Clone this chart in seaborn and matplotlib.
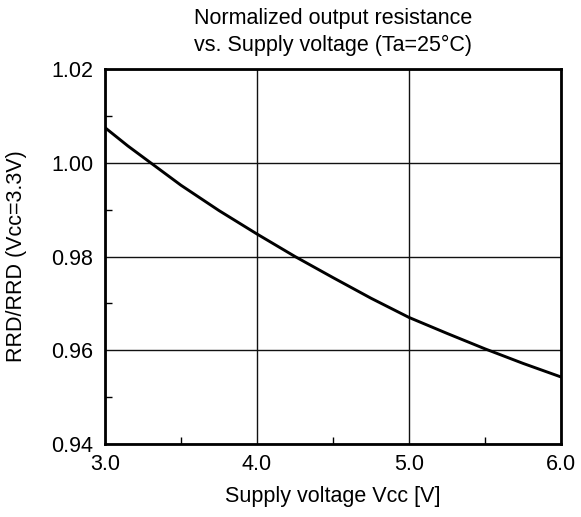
import matplotlib
matplotlib.use("Agg")
import matplotlib.pyplot as plt
import seaborn as sns
import pandas as pd
from matplotlib.ticker import MultipleLocator

vcc = [3.0, 3.15, 3.3, 3.5, 3.75, 4.0, 4.25, 4.5, 4.75, 5.0, 5.25, 5.5, 5.75, 6.0]
rrd = [1.0075, 1.0036, 1.0000, 0.9952, 0.9898, 0.9848, 0.9800, 0.9755, 0.9711, 0.9670, 0.9636, 0.9603, 0.9572, 0.9543]
x_ticks = [3.0, 4.0, 5.0, 6.0]
x_labels = ["3.0", "4.0", "5.0", "6.0"]
y_ticks = [0.94, 0.96, 0.98, 1.00, 1.02]
y_labels = ["0.94", "0.96", "0.98", "1.00", "1.02"]

sns.set_theme(style="white")
plt.rcParams["font.family"] = ["Liberation Sans", "DejaVu Sans"]
plt.rcParams["text.color"] = "black"
plt.rcParams["axes.labelcolor"] = "black"
plt.rcParams["xtick.color"] = "black"
plt.rcParams["ytick.color"] = "black"

df = pd.DataFrame({"Vcc": vcc, "RRD": rrd})

fs = 15.5
fig = plt.figure(figsize=(5.81, 5.17), dpi=100)
ax = fig.add_axes([0.1807, 0.1412, 0.7849, 0.7253])
sns.lineplot(data=df, x="Vcc", y="RRD", ax=ax, color="black", linewidth=2.1)

ax.set_xlim(3.0, 6.0)
ax.set_ylim(0.94, 1.02)
ax.set_xticks(x_ticks)
ax.set_xticklabels(x_labels, fontsize=fs)
ax.set_yticks(y_ticks)
ax.set_yticklabels(y_labels, fontsize=fs)
ax.xaxis.set_minor_locator(MultipleLocator(0.5))
ax.yaxis.set_minor_locator(MultipleLocator(0.01))
ax.tick_params(axis="x", which="major", length=0, pad=7)
ax.tick_params(axis="y", which="major", length=0, pad=8.5)
ax.tick_params(which="minor", direction="in", length=5, width=1, color="black", bottom=True, left=True)
ax.grid(True, which="major", color="#111111", linewidth=1.0)
for s in ax.spines.values():
    s.set_visible(True)
    s.set_color("black")
    s.set_linewidth(2.0)

ax.set_xlabel("Supply voltage Vcc [V]", fontsize=fs, labelpad=8)
ax.set_ylabel("RRD/RRD (Vcc=3.3V)", fontsize=fs, labelpad=17)
ax.set_title("Normalized output resistance\nvs. Supply voltage (Ta=25°C)", fontsize=fs, pad=13, linespacing=1.35)

fig.savefig("out.png", dpi=100, facecolor="white")
